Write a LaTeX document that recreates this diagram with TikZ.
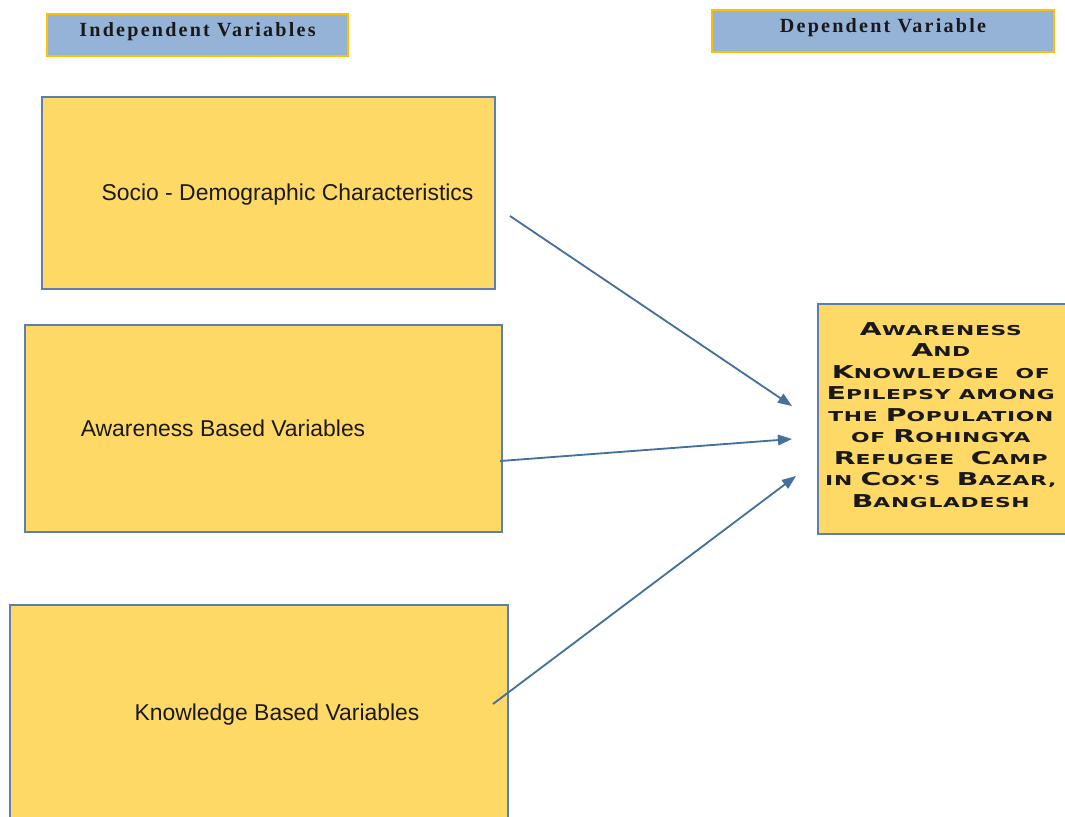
\documentclass[tikz,border=0pt]{standalone}
\usepackage{fontspec}
\setmainfont{Liberation Sans}
\newfontfamily\headfont[LetterSpace=11]{Liberation Serif}
\newfontfamily\titlefont[FakeStretch=1.6,LetterSpace=5]{DejaVu Sans}
\usetikzlibrary{arrows.meta}

\definecolor{boxyellow}{HTML}{FFD966}
\definecolor{boxline}{HTML}{5B7FAE}
\definecolor{headblue}{HTML}{95B3D7}
\definecolor{headline}{HTML}{FFC000}
\definecolor{wireblue}{HTML}{44709F}

% first letter of a word in the title, set larger than the rest
\newcommand{\firstcap}[1]{{\fontsize{12.6}{15.3}\selectfont #1}}

\tikzset{
  headbox/.style={shape=rectangle, draw=headline, fill=headblue, line width=1.5pt, inner sep=0},
  headtext/.style={anchor=center, align=center, inner sep=0pt, text=black!90, font=\headfont\bfseries\fontsize{14.3}{16}\selectfont},
  varbox/.style={shape=rectangle, draw=boxline, fill=boxyellow, line width=1pt, inner sep=0},
  vartext/.style={anchor=center, align=center, inner sep=0pt, text=black!90, font=\fontsize{16.3}{19}\selectfont},
  deptext/.style={anchor=center, align=center, inner sep=0pt, text=black!90, font=\titlefont\bfseries\fontsize{9.7}{15.3}\selectfont},
  wire/.style={-{Triangle[length=10pt, width=7.5pt]}, draw=wireblue, line width=1.3pt},
}

\begin{document}
\begin{tikzpicture}
  \useasboundingbox (0, 0) rectangle (26.625, 20.4);
  \clip (0, 0) rectangle (26.625, 20.4);

  % Headings:
  \node[headbox, minimum width=7.525cm, minimum height=1.05cm] (indephead) at (4.938, 19.525){};
  \node[headtext] (indeplabel) at (4.938, 19.6){Independent Variables};
  \node[headbox, minimum width=8.55cm, minimum height=1.05cm] (dephead) at (22.075, 19.625){};
  \node[headtext] (deplabel) at (22.075, 19.7){Dependent Variable};

  % Independent variable boxes:
  \node[varbox, minimum width=11.325cm, minimum height=4.8cm] (socio) at (6.713, 15.575){};
  \node[vartext] (sociolabel) at (7.188, 15.525){Socio - Demographic Characteristics};
  \node[varbox, minimum width=11.925cm, minimum height=5.175cm] (aware) at (6.588, 9.688){};
  \node[vartext] (awarelabel) at (5.575, 9.7){Awareness Based Variables};
  \node[varbox, minimum width=12.45cm, minimum height=6cm] (know) at (6.475, 2.275){};
  \node[vartext] (knowlabel) at (6.925, 2.525){Knowledge Based Variables};

  % Dependent variable box:
  \node[varbox, minimum width=6.425cm, minimum height=5.75cm] (outcome) at (23.663, 9.925){};
  \node[deptext] (outcomelabel) at (23.52, 10.025){\firstcap{A}WARENESS\\ \firstcap{A}ND\\ \firstcap{K}NOWLEDGE\ \ OF\\ \firstcap{E}PILEPSY AMONG\\ THE \firstcap{P}OPULATION\\ OF \firstcap{R}OHINGYA\\ \firstcap{R}EFUGEE\ \ \firstcap{C}AMP\\ IN \firstcap{C}OX'S\ \ \firstcap{B}AZAR,\\ \firstcap{B}ANGLADESH};

  % Wires:
  \coordinate (socioout) at (12.75, 15.0);
  \coordinate (awareout) at (12.5, 8.875);
  \coordinate (knowout) at (12.325, 2.8);
  \coordinate (outcomein1) at (19.8, 10.25);
  \coordinate (outcomein2) at (19.8, 9.425);
  \coordinate (outcomein3) at (19.9, 8.5);
  \draw[wire] (socioout) -- (outcomein1);
  \draw[wire] (awareout) -- (outcomein2);
  \draw[wire] (knowout) -- (outcomein3);
\end{tikzpicture}
\end{document}
